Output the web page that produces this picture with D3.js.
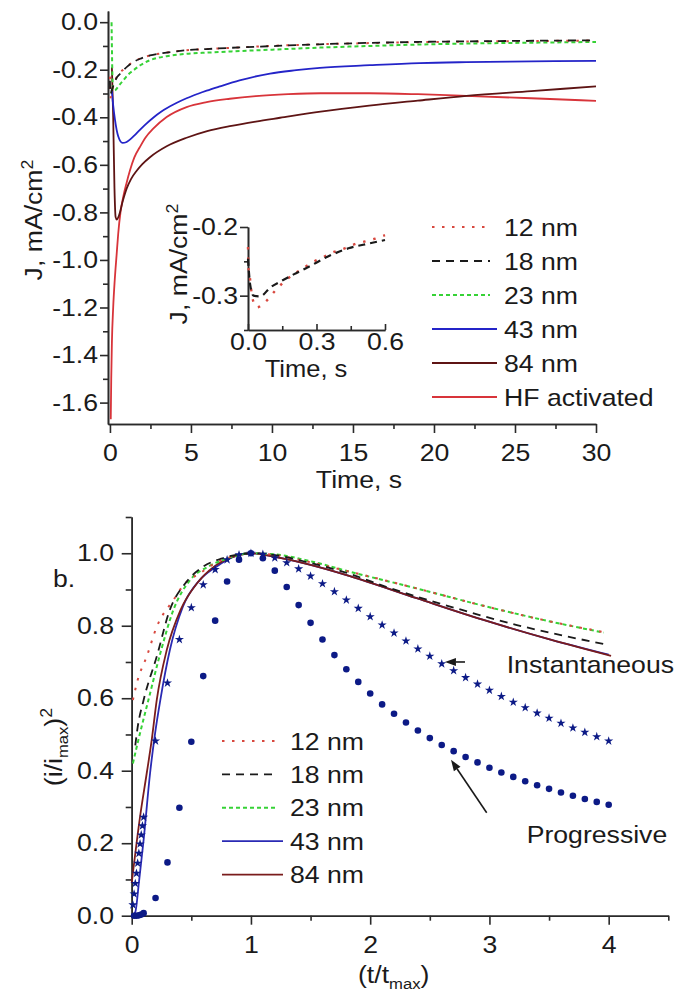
<!DOCTYPE html>
<html><head><meta charset="utf-8">
<script src="https://cdn.jsdelivr.net/npm/d3@7"></script>
<style>
body{margin:0;background:#fff;}
svg text{font-family:"Liberation Sans",Arial,Helvetica,sans-serif;fill:#1a1a1a;}
</style></head><body>
<svg id="c" width="685" height="991"></svg>
<script>
// ---------------- DATA : panel a (J vs time) ----------------
const nm12 = [[0,-0.229],[0.002,-0.258],[0.008,-0.273],[0.019,-0.303],[0.039,-0.317],[0.079,-0.308],[0.116,-0.294],[0.157,-0.28],[0.246,-0.259],[0.29,-0.25],[0.335,-0.243],[0.379,-0.236],[0.424,-0.231],[0.468,-0.225],[0.513,-0.221],[0.557,-0.217],[0.6,-0.212],[0.82,-0.2],[1.1,-0.183],[1.44,-0.167],[1.9,-0.152],[2.47,-0.14],[3.5,-0.128],[4.73,-0.118],[5.97,-0.113],[7.4,-0.108],[9.88,-0.1],[12.96,-0.093],[16.05,-0.088],[19.1,-0.084],[23,-0.081],[26.5,-0.079],[30,-0.077]];
const nm18 = [[0,-0.246],[0.009,-0.283],[0.024,-0.3],[0.053,-0.301],[0.098,-0.288],[0.15,-0.278],[0.2,-0.269],[0.26,-0.259],[0.35,-0.243],[0.44,-0.231],[0.53,-0.224],[0.6,-0.219],[0.82,-0.203],[1.1,-0.185],[1.44,-0.168],[1.9,-0.153],[2.47,-0.14],[3.5,-0.128],[4.73,-0.118],[5.97,-0.113],[7.4,-0.108],[9.88,-0.101],[12.96,-0.093],[16.05,-0.087],[19.1,-0.083],[23,-0.08],[26.5,-0.078],[30,-0.076]];
const nm23 = [[0.1,0.0],[0.12,-0.1],[0.15,-0.22],[0.2,-0.285],[0.3,-0.288],[0.41,-0.28],[0.6,-0.263],[0.82,-0.245],[1.1,-0.222],[1.44,-0.203],[1.9,-0.18],[2.47,-0.16],[3.5,-0.143],[4.73,-0.133],[6,-0.128],[7.5,-0.123],[9.88,-0.116],[12.96,-0.107],[16.05,-0.1],[19.1,-0.094],[23,-0.089],[26.5,-0.086],[30,-0.083]];
const nm43 = [[0.12,-0.29],[0.2,-0.35],[0.31,-0.41],[0.51,-0.48],[0.78,-0.508],[1.0,-0.505],[1.23,-0.494],[1.5,-0.477],[1.85,-0.453],[2.2,-0.43],[2.67,-0.402],[3.2,-0.375],[3.5,-0.362],[4.1,-0.34],[4.73,-0.32],[5.4,-0.302],[5.97,-0.288],[6.79,-0.27],[8,-0.245],[9.88,-0.216],[11.5,-0.202],[12.96,-0.192],[16.05,-0.181],[19.1,-0.172],[22,-0.168],[26,-0.165],[30,-0.163]];
const nm84 = [[0.12,-0.19],[0.2,-0.4],[0.28,-0.7],[0.35,-0.82],[0.42,-0.83],[0.55,-0.815],[0.8,-0.75],[1.03,-0.70],[1.3,-0.66],[1.65,-0.625],[2.0,-0.597],[2.47,-0.568],[3.5,-0.522],[4.73,-0.486],[6,-0.458],[7.5,-0.436],[9,-0.418],[10.5,-0.402],[13,-0.376],[16,-0.351],[19,-0.33],[22,-0.31],[26,-0.29],[30,-0.27]];
const hfAct = [[0.05,-1.67],[0.08,-1.5],[0.12,-1.35],[0.2,-1.2],[0.3,-1.08],[0.41,-0.98],[0.51,-0.89],[0.65,-0.8],[0.82,-0.735],[1.03,-0.675],[1.23,-0.625],[1.5,-0.57],[1.85,-0.525],[2.2,-0.485],[2.67,-0.448],[3.5,-0.399],[4.73,-0.357],[5.97,-0.336],[7.4,-0.322],[9,-0.311],[11,-0.303],[13,-0.299],[16,-0.299],[19,-0.303],[22,-0.31],[26,-0.32],[30,-0.331]];
const topXTicks = [0,5,10,15,20,25,30];
const topXMinor = [2.5,7.5,12.5,17.5,22.5,27.5];
const topYTicks = [0,-0.2,-0.4,-0.6,-0.8,-1.0,-1.2,-1.4,-1.6];
const topYMinor = [-0.1,-0.3,-0.5,-0.7,-0.9,-1.1,-1.3,-1.5];
const insetXTicks = [0,0.3,0.6];
const insetXMinor = [0.15,0.45];
const insetYTicks = [-0.2,-0.3];
const insetYMinor = [-0.25,-0.35];
const legendLabels = ["12 nm","18 nm","23 nm","43 nm","84 nm","HF activated"];

// ---------------- DATA : panel b (normalised transients) ----------------
const b12 = [[0.01,0.595],[0.05,0.65],[0.126,0.715],[0.21,0.797],[0.35,0.871],[0.45,0.918],[0.574,0.945],[0.7,0.973],[0.85,0.991],[1.0,1.0],[1.2,0.995],[1.5,0.975],[1.83,0.949],[2.39,0.903],[2.95,0.855],[3.52,0.811],[4.0,0.78]];
const b18 = [[0.03,0.47],[0.05,0.52],[0.1,0.595],[0.21,0.715],[0.32,0.844],[0.45,0.917],[0.6,0.963],[0.75,0.985],[0.9,0.997],[1.0,1.0],[1.2,0.995],[1.5,0.973],[1.83,0.943],[2.11,0.91],[2.67,0.853],[3.23,0.802],[4.0,0.747]];
const b23 = [[0.01,0.42],[0.056,0.485],[0.14,0.595],[0.24,0.724],[0.35,0.844],[0.49,0.926],[0.64,0.963],[0.8,0.985],[1.0,1.0],[1.2,0.997],[1.5,0.978],[1.83,0.949],[2.39,0.903],[2.95,0.855],[3.52,0.811],[3.96,0.781]];
const b43 = [[0.0,0.0],[0.03,0.01],[0.06,0.09],[0.1,0.209],[0.154,0.393],[0.196,0.503],[0.24,0.595],[0.32,0.733],[0.43,0.853],[0.57,0.926],[0.71,0.963],[0.85,0.99],[1.0,1.0],[1.2,0.99],[1.5,0.968],[1.83,0.937],[2.39,0.876],[2.95,0.816],[3.52,0.761],[4.0,0.72]];
const b84 = [[0.0,0.09],[0.07,0.273],[0.126,0.393],[0.168,0.485],[0.21,0.595],[0.294,0.733],[0.41,0.844],[0.55,0.918],[0.69,0.963],[0.85,0.99],[1.0,1.0],[1.2,0.99],[1.5,0.968],[1.83,0.937],[2.39,0.876],[2.95,0.816],[3.52,0.761],[4.02,0.717]];
const instT = [0.01,0.02,0.03,0.04,0.05,0.06,0.07,0.08,0.09,0.1,0.2,0.3,0.4,0.5,0.6,0.7,0.8,0.9,1.0,1.1,1.2,1.3,1.4,1.5,1.6,1.7,1.8,1.9,2.0,2.1,2.2,2.3,2.4,2.5,2.6,2.7,2.8,2.9,3.0,3.1,3.2,3.3,3.4,3.5,3.6,3.7,3.8,3.9,4.0];
const instV = [0.030,0.060,0.089,0.117,0.145,0.172,0.198,0.223,0.248,0.272,0.482,0.642,0.762,0.850,0.913,0.955,0.982,0.996,1.000,0.997,0.987,0.974,0.957,0.937,0.916,0.894,0.871,0.848,0.825,0.802,0.780,0.758,0.736,0.716,0.695,0.676,0.657,0.639,0.622,0.605,0.589,0.574,0.559,0.545,0.531,0.518,0.506,0.494,0.482];
const progT = [0.02,0.04,0.06,0.08,0.1,0.2,0.3,0.4,0.5,0.6,0.7,0.8,0.9,1.0,1.1,1.2,1.3,1.4,1.5,1.6,1.7,1.8,1.9,2.0,2.1,2.2,2.3,2.4,2.5,2.6,2.7,2.8,2.9,3.0,3.1,3.2,3.3,3.4,3.5,3.6,3.7,3.8,3.9,4.0];
const progV = [0.000,0.000,0.001,0.003,0.007,0.049,0.147,0.298,0.480,0.661,0.814,0.922,0.982,1.000,0.986,0.952,0.907,0.857,0.808,0.762,0.719,0.680,0.645,0.613,0.583,0.557,0.533,0.511,0.490,0.471,0.454,0.438,0.423,0.408,0.395,0.383,0.371,0.360,0.350,0.340,0.331,0.322,0.314,0.306];
const botXTicks = [0,1,2,3,4];
const botXMinor = [0.5,1.5,2.5,3.5,4.5];
const botYTicks = [0,0.2,0.4,0.6,0.8,1.0];
const botYMinor = [0.1,0.3,0.5,0.7,0.9,1.1];
const botLegend = ["12 nm","18 nm","23 nm","43 nm","84 nm"];

// ---------------- STYLE ----------------
const SX = 1.11, FS = 24;
const C = {r12:"#d8483f", k18:"#1a1a1a", g23:"#36d236", b43:"#2424c8", m84:"#5e1414", hf:"#d8343a",
           bb43:"#2a2ab4", bm84:"#7a1c1c", navy:"#0c1a86", axis:"#2a2a2a"};
const styles = [
  {stroke:C.r12, dash:"2.5,7.5", w:2},
  {stroke:C.k18, dash:"8,6", w:1.8},
  {stroke:C.g23, dash:"4,3", w:2},
  {stroke:C.b43, dash:null, w:1.8},
  {stroke:C.m84, dash:null, w:1.8},
  {stroke:C.hf, dash:null, w:1.8}
];
const svg = d3.select("#c");

function text(parent, x, y, str, anchor, rotate, size) {
  const g = parent.append("g").attr("transform", `translate(${x},${y})${rotate?` rotate(${rotate})`:""} scale(${SX},1)`);
  return g.append("text").attr("text-anchor", anchor||"start").attr("font-size", size||FS).text(str);
}
function styleAxis(g) {
  g.attr("font-size", FS).attr("font-family", null);
  g.selectAll("path,line").attr("stroke", C.axis).attr("stroke-width", 1.6);
  g.selectAll(".tick text").attr("fill", "#1a1a1a").attr("transform", `scale(${SX},1)`);
}
function drawAxes(g, xs, ys, o) {
  const xg = g.append("g").attr("transform", `translate(0,${ys.range()[0]})`);
  xg.call(d3.axisBottom(xs).tickValues(o.xMinor).tickSize(o.xMinLen).tickSizeOuter(0).tickFormat(""));
  styleAxis(xg);
  const xg2 = g.append("g").attr("transform", `translate(0,${ys.range()[0]})`);
  xg2.call(d3.axisBottom(xs).tickValues(o.xTicks).tickSize(o.xLen).tickSizeOuter(0).tickPadding(o.xPad).tickFormat(o.xFmt));
  styleAxis(xg2);
  const yg = g.append("g").attr("transform", `translate(${xs.range()[0]},0)`);
  yg.call(d3.axisLeft(ys).tickValues(o.yMinor).tickSize(o.yMinLen).tickSizeOuter(0).tickFormat(""));
  styleAxis(yg);
  const yg2 = g.append("g").attr("transform", `translate(${xs.range()[0]},0)`);
  yg2.call(d3.axisLeft(ys).tickValues(o.yTicks).tickSize(o.yLen).tickSizeOuter(0).tickPadding(o.yPad).tickFormat(o.yFmt));
  styleAxis(yg2);
}
const f1 = d => d.toFixed(1);
const f0 = d => String(d);

// ================= PANEL A =================
const A = svg.append("g");
const ax = d3.scaleLinear().domain([-0.12, 30]).range([108, 596]);
const ay = d3.scaleLinear().domain([-1.69, 0.047]).range([424, 11]);
drawAxes(A, ax, ay, {xTicks:topXTicks, xMinor:topXMinor, xLen:9, xMinLen:5, xPad:11, xFmt:f0,
                     yTicks:topYTicks, yMinor:topYMinor, yLen:8, yMinLen:5, yPad:1, yFmt:f1});
const lineA = d3.line().x(d => ax(d[0])).y(d => ay(d[1])).curve(d3.curveMonotoneX);
const seriesA = [nm12, nm18, nm23, nm43, nm84, hfAct];
const orderA = [5, 4, 3, 2, 0, 1];
orderA.forEach(i => {
  A.append("path").datum(seriesA[i]).attr("d", lineA).attr("fill", "none")
    .attr("stroke", styles[i].stroke).attr("stroke-width", styles[i].w)
    .attr("stroke-dasharray", styles[i].dash);
});
// axis titles
text(A, 359, 488, "Time, s", "middle");
const jA = text(A, 42, 220, "J, mA/cm", "middle", -90);
jA.append("tspan").attr("dy", -9).attr("font-size", 16).text("2");

// legend
const legA = A.append("g");
legendLabels.forEach((lab, i) => {
  const y = 227 + i * 34;
  legA.append("line").attr("x1", 432).attr("x2", styles[i].dash ? 490 : 497).attr("y1", y).attr("y2", y)
    .attr("stroke", styles[i].stroke).attr("stroke-width", styles[i].w).attr("stroke-dasharray", styles[i].dash);
  text(legA, 504, y + 8.5, lab, "start");
});

// inset
const I = svg.append("g");
const ix = d3.scaleLinear().domain([0, 0.6]).range([248, 385]);
const iy = d3.scaleLinear().domain([-0.35, -0.2]).range([330, 227]);
drawAxes(I, ix, iy, {xTicks:insetXTicks, xMinor:insetXMinor, xLen:-6, xMinLen:-4, xPad:3, xFmt:f1,
                     yTicks:insetYTicks, yMinor:insetYMinor, yLen:8, yMinLen:4, yPad:1, yFmt:f1});
const lineI = d3.line().x(d => ix(d[0])).y(d => iy(d[1])).curve(d3.curveMonotoneX);
[[nm12, 0], [nm18, 1]].forEach(([s, i]) => {
  I.append("path").datum(s.filter(d => d[0] <= 0.6)).attr("d", lineI).attr("fill", "none")
    .attr("stroke", styles[i].stroke).attr("stroke-width", i === 0 ? 2.4 : 2.2)
    .attr("stroke-dasharray", i === 0 ? "2.5,8" : "7,5");
});
text(I, 306, 377, "Time, s", "middle", null, 23);
const jI = text(I, 187, 264, "J, mA/cm", "middle", -90);
jI.append("tspan").attr("dy", -9).attr("font-size", 16).text("2");

// ================= PANEL B =================
const B = svg.append("g");
const bx = d3.scaleLinear().domain([0, 4.5]).range([131.7, 668.3]);
const by = d3.scaleLinear().domain([0, 1.1]).range([915.7, 517]);
drawAxes(B, bx, by, {xTicks:botXTicks, xMinor:botXMinor, xLen:9, xMinLen:5, xPad:11, xFmt:f0,
                     yTicks:botYTicks, yMinor:botYMinor, yLen:10, yMinLen:6, yPad:6, yFmt:f1});
const lineB = d3.line().x(d => bx(d[0])).y(d => by(d[1])).curve(d3.curveMonotoneX);
const seriesB = [b12, b18, b23, b43, b84];
const stylesB = [
  {stroke:C.r12, dash:"2.5,7.5", w:2},
  {stroke:C.k18, dash:"8,6", w:1.8},
  {stroke:C.g23, dash:"4,3", w:2},
  {stroke:C.bb43, dash:null, w:1.8},
  {stroke:C.bm84, dash:null, w:1.8}
];
[3, 4, 2, 0, 1].forEach(i => {
  B.append("path").datum(seriesB[i]).attr("d", lineB).attr("fill", "none")
    .attr("stroke", stylesB[i].stroke).attr("stroke-width", stylesB[i].w)
    .attr("stroke-dasharray", stylesB[i].dash);
});
// theoretical models
const star = d3.symbol().type(d3.symbolStar).size(26);
B.append("g").selectAll("path").data(instT.map((t, i) => [t, instV[i]])).join("path")
  .attr("d", star).attr("transform", d => `translate(${bx(d[0])},${by(d[1])})`).attr("fill", C.navy);
B.append("g").selectAll("circle").data(progT.map((t, i) => [t, progV[i]])).join("circle")
  .attr("cx", d => bx(d[0])).attr("cy", d => by(d[1])).attr("r", 3.3).attr("fill", C.navy);

// legend b
botLegend.forEach((lab, i) => {
  const y = 741 + i * 33.4;
  B.append("line").attr("x1", 222).attr("x2", stylesB[i].dash ? 278 : 283).attr("y1", y).attr("y2", y)
    .attr("stroke", stylesB[i].stroke).attr("stroke-width", stylesB[i].w).attr("stroke-dasharray", stylesB[i].dash);
  text(B, 290, y + 8.5, lab, "start");
});
// annotations (data coordinates)
function arrow(g, x1, y1, x2, y2) {
  const p1 = [bx(x1), by(y1)], p2 = [bx(x2), by(y2)];
  const ang = Math.atan2(p2[1] - p1[1], p2[0] - p1[0]);
  const L = 11, W = 4;
  const base = [p2[0] - L * Math.cos(ang), p2[1] - L * Math.sin(ang)];
  g.append("line").attr("x1", p1[0]).attr("y1", p1[1]).attr("x2", base[0]).attr("y2", base[1])
    .attr("stroke", "#1a1a1a").attr("stroke-width", 1.6);
  const px = -Math.sin(ang) * W, py = Math.cos(ang) * W;
  g.append("path").attr("d", `M${p2[0]},${p2[1]}L${base[0]+px},${base[1]+py}L${base[0]-px},${base[1]-py}Z`).attr("fill", "#1a1a1a");
}
arrow(B, 2.795, 0.70, 2.627, 0.70);
arrow(B, 2.977, 0.284, 2.678, 0.43);
text(B, bx(3.145), by(0.67), "Instantaneous", "start");
text(B, bx(3.312), by(0.201), "Progressive", "start");
text(B, 53, 587, "b.", "start");
// axis titles b
const tB = text(B, 358, 983, "(t/t", "start");
tB.append("tspan").attr("dy", 6).attr("font-size", 15).text("max");
tB.append("tspan").attr("dy", -6).text(")");
const yB = text(B, 62, 747, "(i/i", "middle", -90);
yB.append("tspan").attr("dy", 6).attr("font-size", 15).text("max");
yB.append("tspan").attr("dy", -6).text(")");
yB.append("tspan").attr("dy", -10).attr("font-size", 16).text("2");
</script>
</body></html>
